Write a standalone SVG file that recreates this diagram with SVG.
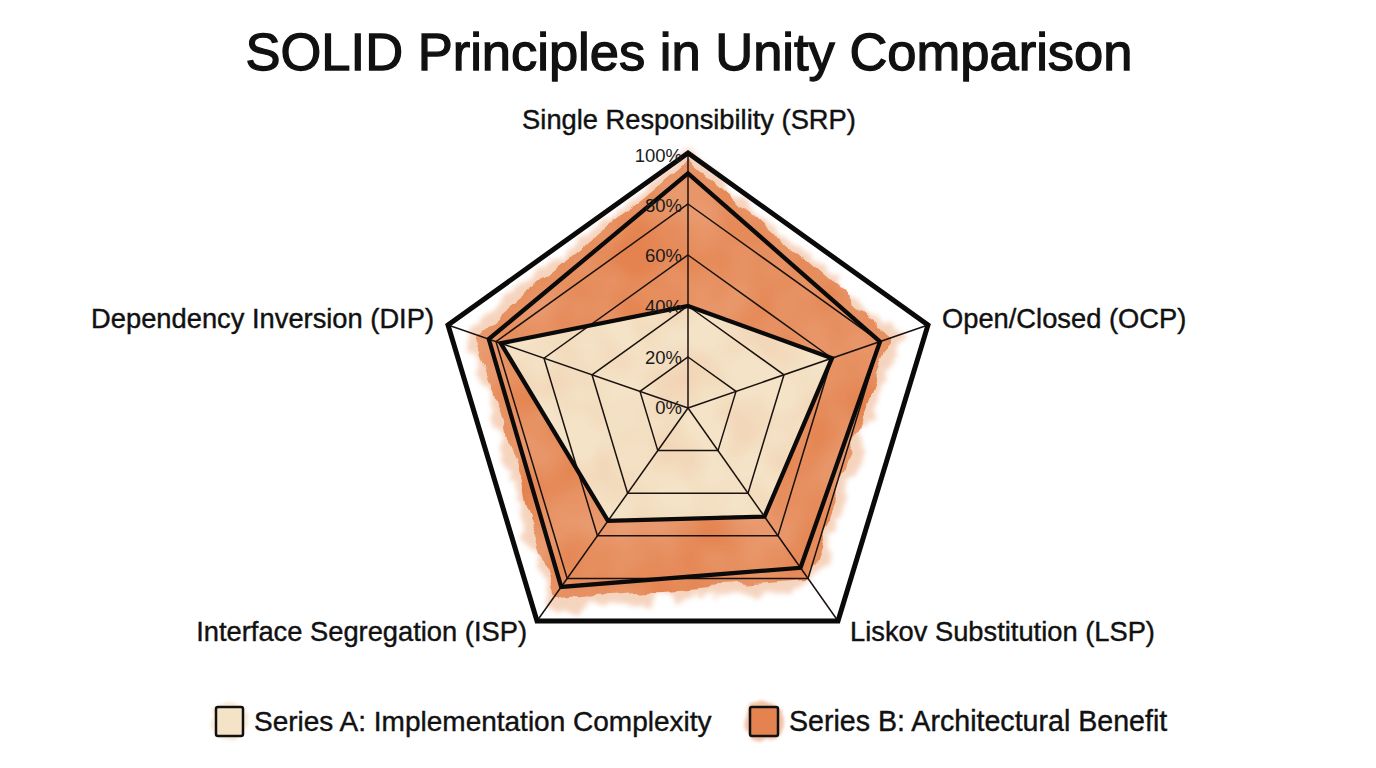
<svg xmlns="http://www.w3.org/2000/svg" width="1376" height="768" viewBox="0 0 1376 768">
  <style>
    text { font-family: "Liberation Sans", Arial, sans-serif; fill: #111; }
    .title { font-size: 52.5px; stroke: #111; stroke-width: 1.3px; }
    .axis { font-size: 27.3px; stroke: #111; stroke-width: 0.4px; }
    .tick { font-size: 18.5px; text-anchor: end; fill: #1a1a1a; }
    .legend { font-size: 28px; stroke: #111; stroke-width: 0.4px; }
    .ring { fill: none; stroke: #1a120e; stroke-width: 1.5; stroke-linejoin: miter; }
    .spoke { stroke: #1a120e; stroke-width: 1.5; }
    .outer { fill: none; stroke: #0a0a0a; stroke-width: 5; stroke-linejoin: miter; }
    .series { fill: none; stroke: #0a0a0a; stroke-width: 4.3; stroke-linejoin: miter; }
  </style>
  <defs>
    <filter id="wc" x="-15%" y="-15%" width="130%" height="130%">
      <feTurbulence type="fractalNoise" baseFrequency="0.03" numOctaves="3" seed="4" result="n"/>
      <feDisplacementMap in="SourceGraphic" in2="n" scale="16" xChannelSelector="R" yChannelSelector="G" result="d"/>
      <feTurbulence type="fractalNoise" baseFrequency="0.018" numOctaves="2" seed="11" result="n2"/>
      <feColorMatrix in="n2" type="matrix" values="0 0 0 0 0  0 0 0 0 0  0 0 0 0 0  0.5 0 0 0 0.6" result="a"/>
      <feComposite in="d" in2="a" operator="in"/>
    </filter>
    <filter id="wch" x="-15%" y="-15%" width="130%" height="130%">
      <feTurbulence type="fractalNoise" baseFrequency="0.04" numOctaves="3" seed="21" result="n"/>
      <feDisplacementMap in="SourceGraphic" in2="n" scale="28" xChannelSelector="R" yChannelSelector="G" result="d"/>
      <feGaussianBlur in="d" stdDeviation="2.5"/>
    </filter>
    <filter id="wcl" x="-15%" y="-15%" width="130%" height="130%">
      <feTurbulence type="fractalNoise" baseFrequency="0.03" numOctaves="3" seed="9" result="n"/>
      <feDisplacementMap in="SourceGraphic" in2="n" scale="7" xChannelSelector="R" yChannelSelector="G" result="d"/>
      <feTurbulence type="fractalNoise" baseFrequency="0.02" numOctaves="2" seed="2" result="n2"/>
      <feColorMatrix in="n2" type="matrix" values="0 0 0 0 0  0 0 0 0 0  0 0 0 0 0  0.4 0 0 0 0.75" result="a"/>
      <feComposite in="d" in2="a" operator="in"/>
    </filter>
    <filter id="halo" x="-50%" y="-50%" width="200%" height="200%">
      <feTurbulence type="fractalNoise" baseFrequency="0.08" numOctaves="2" seed="5" result="n"/>
      <feDisplacementMap in="SourceGraphic" in2="n" scale="8" xChannelSelector="R" yChannelSelector="G" result="d"/>
      <feGaussianBlur in="d" stdDeviation="1.5"/>
    </filter>
  </defs>

  <rect width="1376" height="768" fill="#ffffff"/>

  <text class="title" x="689" y="70" text-anchor="middle">SOLID Principles in Unity Comparison</text>

  <!-- Series B fill (watercolor orange) -->
  <g id="series-b-fill">
    <polygon points="688,158 898,335 812,585 550,605 471,333" fill="#f0b894" opacity="0.6" stroke="#f0b894" stroke-width="8" stroke-linejoin="round" filter="url(#wch)"/>
    <polygon points="688,166 887,338 805,575 557,594 481,336" fill="#e4834f" stroke="#e4834f" stroke-width="8" stroke-linejoin="round" filter="url(#wc)"/>
  </g>

  <!-- Series A fill (cream) -->
  <g id="series-a-fill" filter="url(#wcl)">
    <polygon points="688,306 832,358.2 764.5,516.6 608,520.9 500.8,343.3" fill="#f4e3c7"/>
  </g>

  <!-- Grid rings -->
  <g id="grid">
    <polygon class="ring" points="688,357 736,391.4 718,450.6 657.8,450.6 640,391.4"/>
    <polygon class="ring" points="688,306 784,374.8 748,493.2 627.6,493.2 592,374.8"/>
    <polygon class="ring" points="688,255 832,358.2 778,535.8 597.4,535.8 544,358.2"/>
    <polygon class="ring" points="688,204 880,341.6 808,578.4 567.2,578.4 496,341.6"/>
  </g>

  <!-- Spokes -->
  <g id="connectors">
    <line class="spoke" x1="688" y1="408" x2="688" y2="153"/>
    <line class="spoke" x1="688" y1="408" x2="928" y2="325"/>
    <line class="spoke" x1="688" y1="408" x2="838" y2="621"/>
    <line class="spoke" x1="688" y1="408" x2="537" y2="621"/>
    <line class="spoke" x1="688" y1="408" x2="448" y2="325"/>
  </g>

  <!-- Series outlines -->
  <g id="series-b">
    <polygon class="series" points="688,173.4 880,341.6 800.5,567.8 561.2,586.9 488.8,339.1"/>
  </g>
  <g id="series-a">
    <polygon class="series" points="688,306 832,358.2 764.5,516.6 608,520.9 500.8,343.3"/>
  </g>

  <!-- Outer pentagon -->
  <g id="outer-frame">
    <polygon class="outer" points="688,153 928,325 838,621 537,621 448,325"/>
  </g>

  <!-- Tick labels -->
  <g id="ticks">
    <text class="tick" x="682" y="162">100%</text>
    <text class="tick" x="682" y="212">80%</text>
    <text class="tick" x="682" y="262">60%</text>
    <text class="tick" x="682" y="313">40%</text>
    <text class="tick" x="682" y="364">20%</text>
    <text class="tick" x="682" y="414">0%</text>
  </g>

  <!-- Axis labels -->
  <g id="label-srp"><text class="axis" x="689" y="129" text-anchor="middle">Single Responsibility (SRP)</text></g>
  <g id="label-ocp"><text class="axis" x="942" y="328">Open/Closed (OCP)</text></g>
  <g id="label-lsp"><text class="axis" x="850" y="641">Liskov Substitution (LSP)</text></g>
  <g id="label-isp"><text class="axis" x="527" y="641" text-anchor="end">Interface Segregation (ISP)</text></g>
  <g id="label-dip"><text class="axis" x="434" y="328" text-anchor="end">Dependency Inversion (DIP)</text></g>

  <!-- Legend -->
  <g id="legend-a">
    <circle cx="229" cy="721" r="19" fill="#f6e3c6" opacity="0.7" filter="url(#halo)"/>
    <rect x="216" y="707" width="27" height="29" rx="2" fill="#f4e3c7" stroke="#111" stroke-width="2.5"/>
    <text class="legend" x="254" y="731">Series A: Implementation Complexity</text>
  </g>
  <g id="legend-b">
    <circle cx="764" cy="721" r="20" fill="#ea9a6c" opacity="0.6" filter="url(#halo)"/>
    <rect x="750" y="707" width="28" height="29" rx="2" fill="#e4834f" stroke="#111" stroke-width="2.5"/>
    <text class="legend" x="789" y="731" style="font-size:28.6px">Series B: Architectural Benefit</text>
  </g>
</svg>
